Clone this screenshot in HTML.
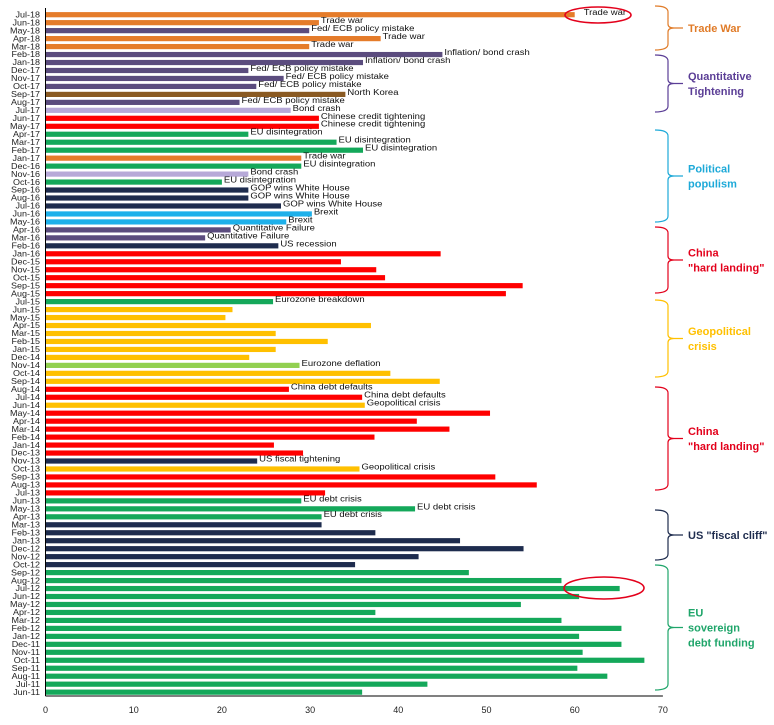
<!DOCTYPE html>
<html><head><meta charset="utf-8"><style>
body{margin:0;background:#fff;width:774px;height:720px;overflow:hidden}
svg text{font-family:"Liberation Sans",sans-serif}
</style></head><body>
<svg id="c" width="774" height="720"></svg>
<script>
const months=["Jul-18","Jun-18","May-18","Apr-18","Mar-18","Feb-18","Jan-18","Dec-17","Nov-17","Oct-17","Sep-17","Aug-17","Jul-17","Jun-17","May-17","Apr-17","Mar-17","Feb-17","Jan-17","Dec-16","Nov-16","Oct-16","Sep-16","Aug-16","Jul-16","Jun-16","May-16","Apr-16","Mar-16","Feb-16","Jan-16","Dec-15","Nov-15","Oct-15","Sep-15","Aug-15","Jul-15","Jun-15","May-15","Apr-15","Mar-15","Feb-15","Jan-15","Dec-14","Nov-14","Oct-14","Sep-14","Aug-14","Jul-14","Jun-14","May-14","Apr-14","Mar-14","Feb-14","Jan-14","Dec-13","Nov-13","Oct-13","Sep-13","Aug-13","Jul-13","Jun-13","May-13","Apr-13","Mar-13","Feb-13","Jan-13","Dec-12","Nov-12","Oct-12","Sep-12","Aug-12","Jul-12","Jun-12","May-12","Apr-12","Mar-12","Feb-12","Jan-12","Dec-11","Nov-11","Oct-11","Sep-11","Aug-11","Jul-11","Jun-11"];
const values=[60,31,29.9,38,29.9,45,36,23,27,23.9,34,22,27.8,31,31,23,33,36,29,29,23,20,23,23,26.7,30.2,27.3,21,18.1,26.4,44.8,33.5,37.5,38.5,54.1,52.2,25.8,21.2,20.4,36.9,26.1,32,26.1,23.1,28.8,39.1,44.7,27.6,35.9,36.2,50.4,42.1,45.8,37.3,25.9,29.2,24,35.6,51,55.7,31.7,29,41.9,31.3,31.3,37.4,47,54.2,42.3,35.1,48,58.5,65.1,60.5,53.9,37.4,58.5,65.3,60.5,65.3,60.9,67.9,60.3,63.7,43.3,35.9];
const colorKeys="OOPOOPPPPPBPLRRGGGOGLGNNNCCPPNRRRRRRGYYYYYYYlYYRRYRRRRRRNYRRRGGGNNNNNNGGGGGGGGGGGGGGGG".split("");
const labels={"Jul-18":"Trade war","Jun-18":"Trade war","May-18":"Fed/ ECB policy mistake","Apr-18":"Trade war","Mar-18":"Trade war","Feb-18":"Inflation/ bond crash","Jan-18":"Inflation/ bond crash","Dec-17":"Fed/ ECB policy mistake","Nov-17":"Fed/ ECB policy mistake","Oct-17":"Fed/ ECB policy mistake","Sep-17":"North Korea","Aug-17":"Fed/ ECB policy mistake","Jul-17":"Bond crash","Jun-17":"Chinese credit tightening","May-17":"Chinese credit tightening","Apr-17":"EU disintegration","Mar-17":"EU disintegration","Feb-17":"EU disintegration","Jan-17":"Trade war","Dec-16":"EU disintegration","Nov-16":"Bond crash","Oct-16":"EU disintegration","Sep-16":"GOP wins White House","Aug-16":"GOP wins White House","Jul-16":"GOP wins White House","Jun-16":"Brexit","May-16":"Brexit","Apr-16":"Quantitative Failure","Mar-16":"Quantitative Failure","Feb-16":"US recession","Jul-15":"Eurozone breakdown","Nov-14":"Eurozone deflation","Aug-14":"China debt defaults","Jul-14":"China debt defaults","Jun-14":"Geopolitical crisis","Nov-13":"US fiscal tightening","Oct-13":"Geopolitical crisis","Jun-13":"EU debt crisis","May-13":"EU debt crisis","Apr-13":"EU debt crisis"};
const ticks=[0,10,20,30,40,50,60,70];
const palette={O:"#E57C2A",P:"#5B4C7E",B:"#8A5A22",L:"#B7A9D8",R:"#FF0000",G:"#14A85A",N:"#1E2C4E",C:"#1DB0EA",Y:"#FFC000",l:"#92D050"};
const groups=[["Trade War",6,50,"#E07B28"],["Quantitative|Tightening",55,112,"#5B3E96"],["Political|populism",130,222,"#1DA9D8"],["China|\"hard landing\"",227,293,"#E3001B"],["Geopolitical|crisis",300,377,"#FFC000"],["China|\"hard landing\"",387,490,"#E3001B"],["US \"fiscal cliff\"",510,560,"#1E2C4E"],["EU|sovereign|debt funding",565,690,"#1FA56A"]];

const NS="http://www.w3.org/2000/svg",svg=document.getElementById('c');
function mk(t,a,p){const e=document.createElementNS(NS,t);for(const k in a)e.setAttribute(k,a[k]);(p||svg).appendChild(e);return e;}
const x=v=>45.5+v*8.82;
const y=i=>14.7+i*7.97;
months.forEach((m,i)=>{
  const r=mk('rect',{x:x(0),y:y(i)-2.6,width:x(values[i])-x(0),height:5.2,fill:palette[colorKeys[i]]});
  
  
  const t=mk('text',{x:40,y:y(i)+3,'font-size':9,'text-anchor':'end',fill:'#222',transform:`translate(0,${y(i)}) scale(1,0.9) translate(0,${-y(i)})`});
  t.textContent=m;
  
  
  if(labels[m]){
    const lx=m==="Jul-18"?x(values[i])+9:x(values[i])+2;
    const l=mk('text',{x:lx,y:y(i)+0.5,'font-size':9.5,fill:'#111',transform:`translate(0,${y(i)}) scale(1,0.9) translate(0,${-y(i)})`});
    l.textContent=labels[m];
    
    
  }
});
const ax=mk('line',{x1:x(0),y1:8,x2:x(0),y2:696,stroke:'#000','stroke-width':1});


const xa=mk('line',{x1:x(0),y1:696,x2:x(70),y2:696,stroke:'#000','stroke-width':1});


ticks.forEach(v=>{
  const t=mk('text',{x:x(v),y:713,'font-size':9,'text-anchor':'middle',fill:'#222'});
  t.textContent=v;
  
  
});
[[598,15,33,8],[604,588,40,11]].forEach(e=>{
  const el=mk('ellipse',{cx:e[0],cy:e[1],rx:e[2],ry:e[3],fill:'none',stroke:'#E3001B','stroke-width':1.6});
  
  
});
groups.forEach(g=>{
  const [name,y0,y1,c]=g,m=(y0+y1)/2;
  const b=mk('path',{d:`M655,${y0} Q668,${y0} 668,${y0+6} L668,${m-4} Q668,${m} 674,${m} L683,${m} M674,${m} Q668,${m} 668,${m+4} L668,${y1-6} Q668,${y1} 655,${y1}`,fill:'none',stroke:c,'stroke-width':1.2});
  
  
  const lines=name.split('|');
  lines.forEach((ln,k)=>{
    const t=mk('text',{x:688,y:m+4+(k-(lines.length-1)/2)*15,'font-size':11,'font-weight':'bold',fill:c});
    t.textContent=ln;
    
    
  });
});
</script>
</body></html>
